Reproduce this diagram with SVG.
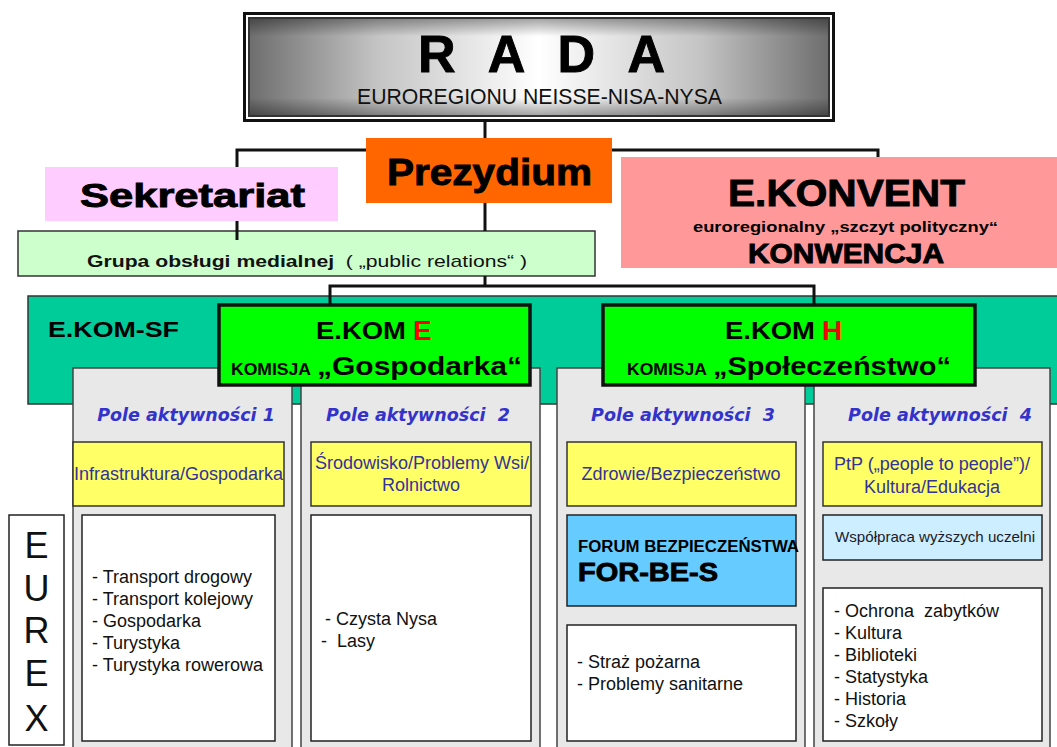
<svg xmlns="http://www.w3.org/2000/svg" width="1057" height="747" viewBox="0 0 1057 747">
<defs>
<linearGradient id="gH" x1="0" y1="0" x2="1" y2="0">
<stop offset="0" stop-color="#6e6e6e"/><stop offset="0.22" stop-color="#c4c4c4"/><stop offset="0.5" stop-color="#ffffff"/><stop offset="0.78" stop-color="#c4c4c4"/><stop offset="1" stop-color="#6e6e6e"/>
</linearGradient>
<linearGradient id="gV" x1="0" y1="0" x2="0" y2="1">
<stop offset="0" stop-color="#000" stop-opacity="0.35"/><stop offset="0.18" stop-color="#000" stop-opacity="0"/><stop offset="0.82" stop-color="#000" stop-opacity="0"/><stop offset="1" stop-color="#000" stop-opacity="0.35"/>
</linearGradient>
<clipPath id="cY1"><rect x="73" y="442" width="211" height="64"/></clipPath>
<clipPath id="cY2"><rect x="311" y="442" width="220" height="64"/></clipPath>
<clipPath id="cF"><rect x="567" y="515" width="232" height="91"/></clipPath>
</defs>
<style>
text{font-family:"Liberation Sans",Arial,sans-serif;}
.h{font-weight:bold;fill:#000;stroke:#000;stroke-width:0.9;}
.b{font-weight:bold;fill:#000;}
.col{fill:#e8e8e8;stroke:#444;stroke-width:1.5;}
.yel{fill:#ffff66;stroke:#333;stroke-width:1.5;}
.wht{fill:#fff;stroke:#222;stroke-width:1.5;}
.yt{font-size:18px;fill:#333399;}
.lt{font-size:18px;fill:#111;white-space:pre;}
.pole{font-family:"DejaVu Sans",sans-serif;font-weight:bold;font-style:italic;font-size:17.5px;fill:#3333cc;white-space:pre;}
.con{stroke:#111;stroke-width:3;fill:none;}
.kom{fill:#00ff00;stroke:#111;stroke-width:3.5;}
</style>
<rect width="1057" height="747" fill="#fff"/>

<g id="rada">
<rect x="243" y="12" width="592" height="110" fill="#111"/>
<rect x="246" y="15" width="586" height="104" fill="#fff"/>
<rect x="248" y="17" width="582" height="100" fill="#333"/>
<rect x="250" y="19" width="578" height="96" fill="url(#gH)"/>
<rect x="250" y="19" width="578" height="96" fill="url(#gV)"/>
<text x="418" y="72" class="h" font-size="52" textLength="247" lengthAdjust="spacing" stroke-width="1.8">R A D A</text>
<text x="357" y="104" font-size="22" fill="#111" textLength="365" lengthAdjust="spacingAndGlyphs">EUROREGIONU NEISSE-NISA-NYSA</text>
</g>

<g id="grupa">
<rect x="18" y="231" width="577" height="45" fill="#ccffcc" stroke="#333" stroke-width="1.5"/>
<text x="87" y="267" font-size="17" fill="#111" textLength="440" lengthAdjust="spacingAndGlyphs" style="white-space:pre"><tspan font-weight="bold">Grupa obsługi medialnej</tspan>  ( „public relations“ )</text>
</g>

<g id="ekomsf">
<rect x="28" y="296" width="1040" height="108" fill="#00cc99" stroke="#333" stroke-width="1.5"/>
<text x="48" y="337" class="b" font-size="22" textLength="131" lengthAdjust="spacingAndGlyphs">E.KOM-SF</text>
</g>

<g id="pole1">
<rect x="73" y="368" width="219" height="390" class="col"/>
<text x="186" y="421" class="pole" text-anchor="middle">Pole aktywności 1</text>
<rect x="73" y="442" width="211" height="64" class="yel"/>
<text x="178.5" y="480" class="yt" text-anchor="middle" clip-path="url(#cY1)">Infrastruktura/Gospodarka</text>
<rect x="82" y="515" width="193" height="226" class="wht"/>
<text class="lt"><tspan x="92" y="583">- Transport drogowy</tspan><tspan x="92" y="605">- Transport kolejowy</tspan><tspan x="92" y="627">- Gospodarka</tspan><tspan x="92" y="649">- Turystyka</tspan><tspan x="92" y="671">- Turystyka rowerowa</tspan></text>
</g>

<g id="pole2">
<rect x="301" y="368" width="239" height="390" class="col"/>
<text x="418" y="421" class="pole" text-anchor="middle">Pole aktywności  2</text>
<rect x="311" y="442" width="220" height="64" class="yel"/>
<g clip-path="url(#cY2)">
<text x="315" y="469" class="yt">Środowisko/Problemy Wsi/</text>
<text x="421" y="491" class="yt" text-anchor="middle">Rolnictwo</text>
</g>
<rect x="311" y="515" width="220" height="226" class="wht"/>
<text class="lt"><tspan x="325" y="625">- Czysta Nysa</tspan><tspan x="321" y="647">-  Lasy</tspan></text>
</g>

<g id="pole3">
<rect x="557" y="368" width="248" height="390" class="col"/>
<text x="683" y="421" class="pole" text-anchor="middle">Pole aktywności  3</text>
<rect x="567" y="442" width="229" height="64" class="yel"/>
<text x="681" y="480" class="yt" text-anchor="middle">Zdrowie/Bezpieczeństwo</text>
<rect x="567" y="515" width="229" height="91" fill="#66ccff" stroke="#222" stroke-width="1.5"/>
<g clip-path="url(#cF)">
<text x="578" y="552" class="b" font-size="16" textLength="221" lengthAdjust="spacingAndGlyphs">FORUM BEZPIECZEŃSTWA</text>
</g>
<text x="578" y="581" class="h" font-size="26" textLength="140" lengthAdjust="spacingAndGlyphs">FOR-BE-S</text>
<rect x="567" y="625" width="229" height="116" class="wht"/>
<text class="lt"><tspan x="577" y="668">- Straż pożarna</tspan><tspan x="577" y="690">- Problemy sanitarne</tspan></text>
</g>

<g id="pole4">
<rect x="814" y="368" width="236" height="390" class="col"/>
<text x="940" y="421" class="pole" text-anchor="middle">Pole aktywności  4</text>
<rect x="823" y="442" width="219" height="64" class="yel"/>
<text x="932" y="470" class="yt" text-anchor="middle">PtP („people to people”)/</text>
<text x="932" y="493" class="yt" text-anchor="middle">Kultura/Edukacja</text>
<rect x="823" y="515" width="219" height="45" fill="#cceeff" stroke="#222" stroke-width="1.5"/>
<text x="835" y="542" font-size="15" fill="#1a1a2a" textLength="200" lengthAdjust="spacingAndGlyphs">Współpraca wyższych uczelni</text>
<rect x="823" y="588" width="219" height="153" class="wht"/>
<text class="lt"><tspan x="834" y="617">- Ochrona  zabytków</tspan><tspan x="834" y="639">- Kultura</tspan><tspan x="834" y="661">- Biblioteki</tspan><tspan x="834" y="683">- Statystyka</tspan><tspan x="834" y="705">- Historia</tspan><tspan x="834" y="727">- Szkoły</tspan></text>
</g>

<g id="eurex">
<rect x="9" y="515" width="55" height="230" fill="#fff" stroke="#222" stroke-width="1.5"/>
<text font-size="36" fill="#111" text-anchor="middle"><tspan x="36.5" y="558">E</tspan><tspan x="36.5" y="601">U</tspan><tspan x="36.5" y="643">R</tspan><tspan x="36.5" y="686">E</tspan><tspan x="36.5" y="731">X</tspan></text>
</g>

<g id="connectors">
<line class="con" x1="485" y1="122" x2="485" y2="203"/>
<polyline class="con" points="237,240 237,150 878,150 878,158"/>
<line class="con" x1="485" y1="203" x2="485" y2="231"/>
<line class="con" x1="485" y1="276" x2="485" y2="287"/>
<polyline class="con" points="330,305 330,286 814,286 814,305"/>
</g>

<g id="sekretariat">
<rect x="45" y="167" width="293" height="54" fill="#ffccff"/>
<text x="80" y="207" class="h" font-size="33" textLength="225" lengthAdjust="spacingAndGlyphs">Sekretariat</text>
</g>

<g id="prezydium">
<rect x="366" y="138" width="246" height="65" fill="#ff6600"/>
<text x="387" y="185" class="h" font-size="37" textLength="205" lengthAdjust="spacingAndGlyphs">Prezydium</text>
</g>

<g id="ekonvent">
<rect x="621" y="157" width="436" height="111" fill="#ff9999"/>
<text x="728" y="206" class="h" font-size="37" textLength="237" lengthAdjust="spacingAndGlyphs">E.KONVENT</text>
<text x="693" y="232" class="b" font-size="14" textLength="305" lengthAdjust="spacingAndGlyphs">euroregionalny „szczyt polityczny“</text>
<text x="748" y="263" class="h" font-size="27" textLength="196" lengthAdjust="spacingAndGlyphs">KONWENCJA</text>
</g>

<g id="ekomE">
<rect x="219" y="305" width="311" height="80" class="kom"/>
<text x="316" y="339" class="b" font-size="24" textLength="90" lengthAdjust="spacingAndGlyphs">E.KOM</text>
<text x="413" y="340" class="b" font-size="28" style="fill:#ff0000">E</text>
<text x="231" y="375" class="b" font-size="17" textLength="80" lengthAdjust="spacingAndGlyphs">KOMISJA</text>
<text x="317" y="375" class="b" font-size="26" textLength="205" lengthAdjust="spacingAndGlyphs">„Gospodarka“</text>
</g>

<g id="ekomH">
<rect x="603" y="305" width="372" height="80" class="kom"/>
<text x="725" y="339" class="b" font-size="24" textLength="90" lengthAdjust="spacingAndGlyphs">E.KOM</text>
<text x="822" y="340" class="b" font-size="28" style="fill:#ff0000">H</text>
<text x="627" y="375" class="b" font-size="17" textLength="80" lengthAdjust="spacingAndGlyphs">KOMISJA</text>
<text x="713" y="375" class="b" font-size="26" textLength="238" lengthAdjust="spacingAndGlyphs">„Społeczeństwo“</text>
</g>
</svg>
